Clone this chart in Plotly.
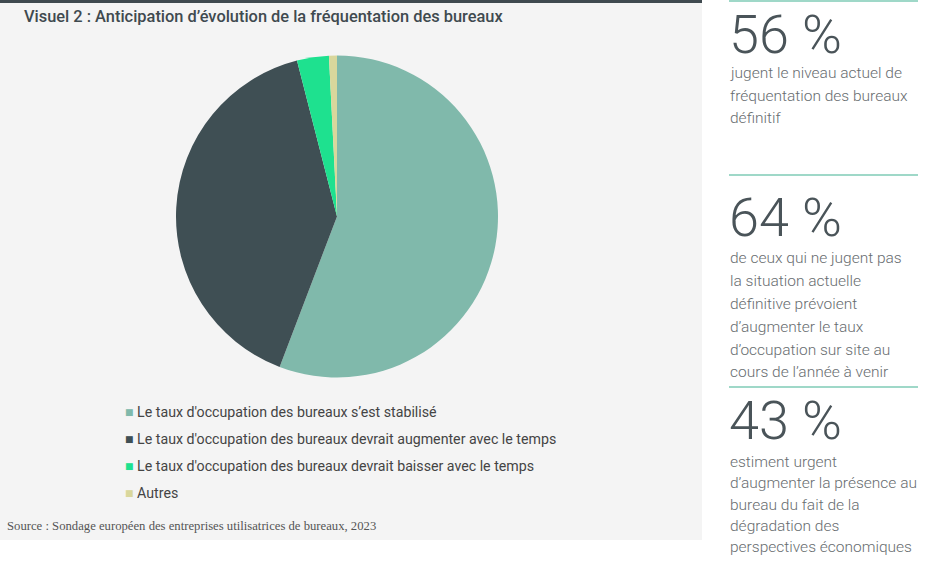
import plotly.graph_objects as go

W, H = 935, 570

# ---- data ----
labels = [
    "Le taux d'occupation des bureaux s’est stabilisé",
    "Le taux d'occupation des bureaux devrait augmenter avec le temps",
    "Le taux d'occupation des bureaux devrait baisser avec le temps",
    "Autres",
]
values = [55.8, 40.2, 3.2, 0.8]
colors = ["#80b9ab", "#3f4f54", "#1ee18f", "#d9d79c"]

title_text = "Visuel 2 : Anticipation d’évolution de la fréquentation des bureaux"
source_text = "Source : Sondage européen des entreprises utilisatrices de bureaux, 2023"

kpi_values = ["56 %", "64 %", "43 %"]
kpi_lines = [
    ["jugent le niveau actuel de", "fréquentation des bureaux", "définitif"],
    ["de ceux qui ne jugent pas", "la situation actuelle", "définitive prévoient",
     "d’augmenter le taux", "d’occupation sur site au", "cours de l’année à venir"],
    ["estiment urgent", "d’augmenter la présence au", "bureau du fait de la",
     "dégradation des", "perspectives économiques"],
]


def px(x):
    return x / W


def py(y):
    return 1 - y / H


fig = go.Figure()

fig.add_trace(go.Pie(
    labels=labels,
    values=values,
    marker=dict(colors=colors, line=dict(width=0)),
    sort=False,
    direction="clockwise",
    rotation=0,
    textinfo="none",
    hoverinfo="label+percent",
    showlegend=False,
    domain=dict(x=[px(176), px(498)], y=[py(378), py(55)]),
))

shapes = [
    dict(type="rect", xref="paper", yref="paper", x0=0, x1=px(702), y0=py(540), y1=1,
         fillcolor="#f4f4f4", line=dict(width=0), layer="below"),
    dict(type="rect", xref="paper", yref="paper", x0=0, x1=px(702), y0=py(3), y1=1,
         fillcolor="#3f4a4f", line=dict(width=0), layer="below"),
]
for yl in [1, 175, 387]:
    shapes.append(dict(type="line", xref="paper", yref="paper", x0=px(729), x1=px(918),
                       y0=py(yl), y1=py(yl), line=dict(color="#7fcbb6", width=1.5)))

annotations = [
    dict(text=title_text, x=px(22), y=py(17), xref="paper", yref="paper",
         xanchor="left", yanchor="middle", showarrow=False,
         font=dict(family="Roboto", size=16.4, color="#3f4a4f", weight=500)),
    dict(text=source_text, x=px(5), y=py(526), xref="paper", yref="paper",
         xanchor="left", yanchor="middle", showarrow=False,
         font=dict(family="Liberation Serif", size=12.7, color="#555555")),
]

legend_y = [412, 439, 466, 493]
for lab, col, yy in zip(labels, colors, legend_y):
    annotations.append(dict(
        text=f"<span style='color:{col}'>■</span> {lab}",
        x=px(123), y=py(yy), xref="paper", yref="paper",
        xanchor="left", yanchor="middle", showarrow=False,
        font=dict(family="Roboto", size=14.2, color="#444444")))

kpi_num_y = [35, 217, 420]
kpi_line_y = [
    [73, 96, 118],
    [258, 281, 304, 327, 350, 372],
    [462, 483, 505, 526, 547],
]
for v, lines, yn, ys in zip(kpi_values, kpi_lines, kpi_num_y, kpi_line_y):
    annotations.append(dict(
        text=v, x=px(728), y=py(yn), xref="paper", yref="paper",
        xanchor="left", yanchor="middle", showarrow=False, borderpad=0,
        font=dict(family="Roboto", size=54, color="#4a5459", weight=300)))
    for line, yy in zip(lines, ys):
        annotations.append(dict(
            text=line, x=px(729), y=py(yy), xref="paper", yref="paper",
            xanchor="left", yanchor="middle", align="left", showarrow=False, borderpad=0,
            font=dict(family="Roboto", size=15.5, color="#686d70", weight=300)))

fig.update_layout(
    width=W, height=H,
    margin=dict(l=0, r=0, t=0, b=0),
    paper_bgcolor="#ffffff",
    plot_bgcolor="#ffffff",
    shapes=shapes,
    annotations=annotations,
)

fig.write_html("out.html")
